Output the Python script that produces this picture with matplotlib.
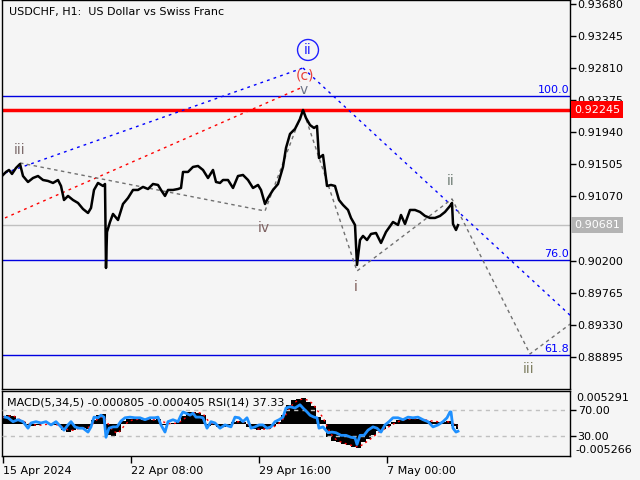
import matplotlib
matplotlib.use("Agg")
import matplotlib.pyplot as plt
import matplotlib.transforms as mtransforms

# ---------------- data ----------------
price_bar = [0, 3, 6, 9, 13, 17, 20, 25, 30, 35, 40, 45, 50, 55, 58, 61, 65, 70, 75, 80,
             85, 88, 91, 95, 100, 102, 103, 104, 107, 110, 115, 120, 125, 130, 135, 140,
             145, 150, 155, 158, 162, 165, 170, 175, 178, 180, 185, 190, 195, 200, 205,
             210, 213, 217, 220, 225, 230, 235, 240, 245, 250, 255, 258, 262, 265, 270,
             275, 280, 283, 287, 292, 297, 300, 303, 307, 311, 314, 316, 320, 324, 328,
             332, 336, 340, 345, 348, 352, 354, 357, 360, 364, 368, 373, 378, 383, 390,
             395, 398, 402, 407, 412, 417, 422, 427, 432, 437, 442, 447, 449, 450, 453, 455]
price_close = [0.91361, 0.91402, 0.91429, 0.91375, 0.91456, 0.91510, 0.91347, 0.91266,
               0.91320, 0.91347, 0.91293, 0.91280, 0.91253, 0.91293, 0.91212, 0.91022,
               0.91077, 0.91022, 0.90982, 0.90900, 0.90846, 0.90914, 0.91158, 0.91253,
               0.91212, 0.91239, 0.90101, 0.90589, 0.90724, 0.90833, 0.90751, 0.90968,
               0.91049, 0.91158, 0.91158, 0.91199, 0.91171, 0.91239, 0.91226, 0.91158,
               0.91077, 0.91158, 0.91158, 0.91171, 0.91185, 0.91402, 0.91402, 0.91470,
               0.91483, 0.91429, 0.91320, 0.91429, 0.91266, 0.91253, 0.91293, 0.91293,
               0.91185, 0.91347, 0.91361, 0.91293, 0.91185, 0.91226, 0.91158, 0.90968,
               0.91049, 0.91158, 0.91239, 0.91470, 0.91727, 0.91917, 0.91985, 0.92120,
               0.92242, 0.92133, 0.92038, 0.91998, 0.92025, 0.91591, 0.91632, 0.91212,
               0.91226, 0.91212, 0.91022, 0.90955, 0.90887, 0.90779, 0.90683, 0.90142,
               0.90480, 0.90535, 0.90480, 0.90562, 0.90575, 0.90440, 0.90589, 0.90724,
               0.90684, 0.90819, 0.90697, 0.90887, 0.90887, 0.90860, 0.90806, 0.90779,
               0.90779, 0.90806, 0.90860, 0.90941, 0.90982, 0.90697, 0.90616, 0.90681]

y_ticks = [0.93680, 0.93245, 0.92810, 0.92375, 0.91940, 0.91505, 0.91070, 0.90635,
           0.90200, 0.89765, 0.89330, 0.88895]
# 0.90635 sits under the current-price box, as in the reference
y_ticklabels = ["0.93680", "0.93245", "0.92810", "0.92375", "0.91940", "0.91505",
                "0.91070", "", "0.90200", "0.89765", "0.89330", "0.88895"]

x_ticks = [0, 128, 256, 384]
x_ticklabels = ["15 Apr 2024", "22 Apr 08:00", "29 Apr 16:00", "7 May 00:00"]

last_price = 0.90681
red_level = 0.92245
fib_levels = [0.92428, 0.90212, 0.88922]
fib_labels = ["100.0", "76.0", "61.8"]

# Elliott wave annotation lines (bar, price)
blue_line1_bar = [2, 300]
blue_line1_px = [0.91388, 0.92811]
blue_line2_bar = [300, 570]
blue_line2_px = [0.92811, 0.89424]
red_line_bar = [2, 300]
red_line_px = [0.90779, 0.92554]
wave_bar = [17, 262, 300, 354, 449, 527, 570]
wave_px = [0.91524, 0.90873, 0.92242, 0.90060, 0.91036, 0.88936, 0.89369]

wave_labels = ["iii", "v", "iv", "i", "ii", "iii"]
wave_label_bar = [17, 301, 261, 353, 448, 526]
wave_label_px = [0.91700, 0.92513, 0.90643, 0.89844, 0.91280, 0.88732]
wave_label_col = ["#7d6b6b", "#6c7486", "#7d6060", "#7d5c58", "#6f7d74", "#7f7f62"]

# Indicators
macd_bar = list(range(0, 456, 5))
macd_hist = [12, 14, 13, 4, 2, -3, -4, -3, -1, -1, -2, -2, -10, -13, -10, -6, -7, -8,
             6, 14, 15, -18, -20, -14, 4, 7, 8, 7, 6, 7, 6, 8, -2, -1, 1, 2, 12, 18, 19,
             17, 14, -4, -3, -6, -5, -3, 3, 4, 2, -5, -9, -10, -8, -9, -4, 2, 14, 30, 38,
             40, 42, 35, 28, 10, 6, -22, -28, -30, -33, -35, -38, -40, -30, -25, -18,
             -12, -8, -4, 2, 6, 7, 8, 8, 8, 6, 4, 3, 3, 3, 4, -4, -8]
macd_signal = [10, 12, 13, 8, 4, 0, -2, -3, -2, -1, -2, -2, -6, -10, -11, -8, -7, -7,
               0, 8, 12, 0, -12, -16, -6, 3, 6, 7, 7, 7, 6, 7, 3, 0, 0, 1, 6, 13, 17, 18,
               16, 5, -1, -4, -5, -4, 0, 3, 3, -1, -6, -9, -9, -9, -6, -1, 7, 20, 32, 38,
               40, 38, 32, 20, 10, -8, -22, -28, -31, -34, -36, -38, -34, -28, -22, -15,
               -10, -6, -1, 3, 6, 7, 8, 8, 7, 5, 4, 3, 3, 3, 0, -4]
rsi_bar = [2, 5, 10, 15, 20, 25, 28, 33, 38, 43, 48, 53, 58, 61, 65, 68, 72, 76, 80, 85,
           88, 91, 95, 98, 101, 103, 106, 110, 114, 118, 122, 127, 132, 137, 142, 147,
           152, 155, 158, 162, 165, 170, 175, 178, 180, 183, 187, 190, 193, 197, 200,
           204, 208, 212, 217, 222, 228, 232, 236, 240, 244, 248, 252, 256, 260, 264,
           268, 272, 276, 280, 283, 287, 292, 297, 300, 304, 307, 311, 314, 316, 320,
           325, 329, 333, 338, 343, 348, 352, 354, 357, 361, 365, 370, 374, 378, 382,
           386, 390, 395, 400, 405, 410, 415, 420, 425, 430, 435, 440, 444, 447, 448,
           450, 453, 455]
rsi_val = [59, 58, 52, 55, 52, 42, 50, 52, 50, 52, 47, 52, 44, 39, 47, 52, 44, 42, 42,
           36, 44, 59, 58, 62, 59, 28, 42, 44, 44, 53, 58, 59, 58, 58, 55, 58, 58, 59, 47,
           36, 52, 55, 52, 62, 67, 65, 62, 65, 59, 59, 58, 42, 52, 50, 42, 47, 44, 59, 58,
           52, 58, 42, 44, 47, 47, 42, 44, 52, 55, 59, 73, 75, 73, 78, 73, 67, 62, 59, 58,
           42, 44, 35, 36, 35, 31, 31, 28, 27, 17, 31, 31, 39, 44, 42, 36, 47, 52, 58, 58,
           55, 59, 58, 59, 55, 52, 44, 47, 52, 58, 67, 67, 42, 36, 37.33]

# ---------------- figure ----------------
bg = "#f5f5f5"
plt.rcParams["font.family"] = ["DejaVu Sans"]
fig = plt.figure(figsize=(6.4, 4.8), dpi=100, facecolor=bg)

W, H = 640.0, 480.0
ax = fig.add_axes([2 / W, 1 - 389 / H, 568 / W, 389 / H], facecolor=bg)
ax.set_xlim(-1, 567)
ax.set_ylim(0.88461, 0.93732)
ax.yaxis.tick_right()
ax.set_yticks(y_ticks)
ax.set_yticklabels(y_ticklabels)
ax.tick_params(axis="y", direction="out", length=4, width=1, labelsize=8, pad=1.5,
               colors="black")
ax.set_xticks([])
for s in ax.spines.values():
    s.set_color("black")
    s.set_linewidth(1)

# horizontal levels
ax.axhline(red_level, color="#ff0000", lw=2.5, zorder=2)
ax.axhline(last_price, color="#c0c0c0", lw=1, zorder=2)
for lvl, lab in zip(fib_levels, fib_labels):
    ax.axhline(lvl, color="#0000e0", lw=1, zorder=2)
    ax.text(566, lvl + 0.00015, lab, color="#0000ff", fontsize=8, ha="right",
            va="bottom", zorder=5)

# annotation lines
ax.plot(blue_line1_bar, blue_line1_px, color="#0000ff", lw=1, dashes=(2, 3), zorder=3)
ax.plot(blue_line2_bar, blue_line2_px, color="#0000ff", lw=1, dashes=(2, 3), zorder=3)
ax.plot(red_line_bar, red_line_px, color="#ff0000", lw=1, dashes=(2, 3), zorder=3)
ax.plot(wave_bar, wave_px, color="#707070", lw=1, dashes=(2.5, 2.5), zorder=3)

# price
ax.plot(price_bar, price_close, color="black", lw=1.8, zorder=4)

# wave labels
for lab, b, p, c in zip(wave_labels, wave_label_bar, wave_label_px, wave_label_col):
    ax.text(b, p, lab, color=c, fontsize=10, ha="center", va="center", zorder=6)
ax.text(302, 0.92703, "(c)", color="#e8403a", fontsize=10, ha="center", va="center",
        zorder=6)
ax.text(305, 0.93055, "ii", color="#2020ff", fontsize=10, ha="center", va="center",
        zorder=6, bbox=dict(boxstyle="circle,pad=0.25", fc="none", ec="#2020ff", lw=1))

ax.text(6, 0.93732 - 0.00165, "USDCHF, H1:  US Dollar vs Swiss Franc", fontsize=8,
        color="black", ha="left", va="center")

# price boxes on axis
trans = mtransforms.blended_transform_factory(ax.transAxes, ax.transData)
ax.text(1.0 + 4 / 568, red_level, "0.92245", transform=trans, color="white",
        fontsize=8, ha="left", va="center", clip_on=False, zorder=10,
        bbox=dict(boxstyle="square,pad=0.3", fc="#ff0000", ec="none"))
ax.text(1.0 + 4 / 568, last_price, "0.90681", transform=trans, color="white",
        fontsize=8, ha="left", va="center", clip_on=False, zorder=10,
        bbox=dict(boxstyle="square,pad=0.3", fc="#b4b4b4", ec="none"))

# ---------------- indicator panel ----------------
ax2 = fig.add_axes([2 / W, 1 - 456 / H, 568 / W, 65 / H], facecolor=bg)
ax2.set_xlim(-1, 567)
ax2.set_ylim(-0.005266, 0.005291)
ax2.set_yticks([])
hist = [v * 1e-4 for v in macd_hist]
sig = [v * 1e-4 for v in macd_signal]
ax2.fill_between(macd_bar, 0, hist, step="mid", color="black", lw=0, zorder=2)
ax2.plot(macd_bar, sig, color="#ff0000", lw=1, dashes=(1.5, 2.5), zorder=3)
ax2.set_xticks(x_ticks)
ax2.set_xticklabels(x_ticklabels)
ax2.tick_params(axis="x", direction="out", length=5, width=1, labelsize=8, pad=2)
for lbl in ax2.get_xticklabels():
    lbl.set_ha("left")
for s in ax2.spines.values():
    s.set_color("black")
    s.set_linewidth(1)

ax3 = ax2.twinx()
ax3.set_ylim(-0.8, 99.2)
ax3.axhline(70, color="#c0c0c0", lw=1, dashes=(3, 3), zorder=1)
ax3.axhline(30, color="#c0c0c0", lw=1, dashes=(3, 3), zorder=1)
ax3.plot(rsi_bar, rsi_val, color="#1e90ff", lw=2, zorder=4)
ax3.set_yticks([70, 30])
ax3.set_yticklabels(["70.00", "30.00"])
ax3.tick_params(axis="y", direction="out", length=4, width=1, labelsize=8, pad=1.5)
for s in ax3.spines.values():
    s.set_visible(False)

ax2.text(4, 0.0035, "MACD(5,34,5) -0.000805 -0.000405 RSI(14) 37.33", fontsize=8,
         color="black", ha="left", va="center", zorder=6)
fig.text(576 / W, 1 - 398 / H, "0.005291", fontsize=8, ha="left", va="center")
fig.text(575 / W, 1 - 450 / H, "-0.005266", fontsize=8, ha="left", va="center")

fig.savefig("out.png", dpi=100, facecolor=bg)
